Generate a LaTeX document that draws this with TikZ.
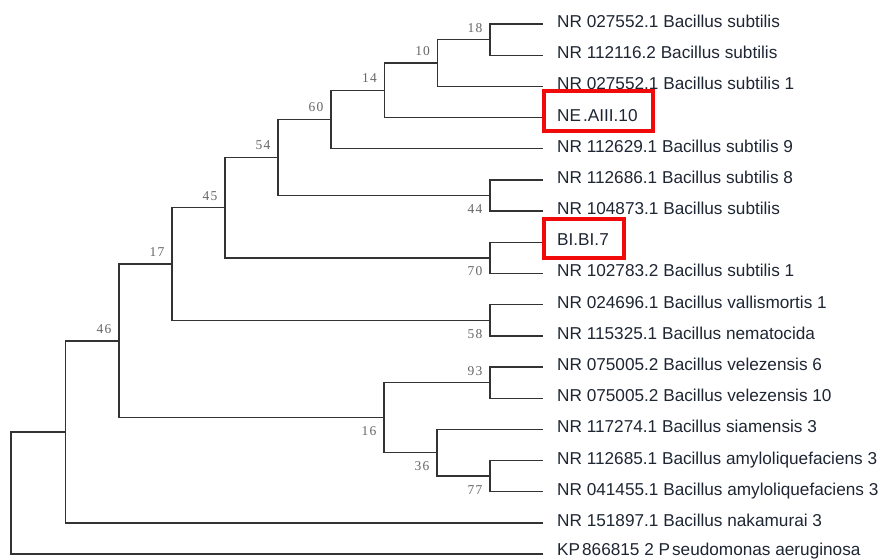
\documentclass[tikz,border=0pt]{standalone}
\usepackage{fontspec}
\setmainfont{Liberation Sans}
\newfontfamily\bootfont[LetterSpace=8]{Liberation Serif}
\definecolor{branch}{HTML}{333333}
\definecolor{leaftext}{HTML}{1E2633}
\definecolor{boot}{HTML}{666666}
\definecolor{hilite}{HTML}{F00A0A}
\tikzset{
  branchline/.style={draw=branch, line width=1.4pt},
  leaf/.style={anchor=base west, inner sep=0pt, text=leaftext,
    font=\fontsize{17.2}{20}\selectfont},
  bootup/.style={anchor=base, inner sep=0pt, text=boot,
    font=\bootfont\fontsize{13.5}{15}\selectfont},
  hibox/.style={draw=hilite, line width=4pt}
}
\begin{document}
\begin{tikzpicture}[x=1pt, y=-1pt]
\useasboundingbox (0,0) rectangle (881,558);

% tips of the terminal branches
\foreach \i/\yy in {0/24.0,1/55.2,2/86.4,3/117.5,4/148.7,5/179.9,6/211.1,
  7/242.3,8/273.4,9/304.6,10/335.8,11/367.0,12/398.2,13/429.3,14/460.5,
  15/491.7,16/522.9,17/554.1}
  \coordinate (t\i) at (543,\yy);

% internal nodes of the tree
\coordinate (n18)  at (490,39.6);
\coordinate (n10)  at (437.7,63.0);
\coordinate (n14)  at (384.5,90.2);
\coordinate (n60)  at (331,119.5);
\coordinate (n44)  at (490,195.5);
\coordinate (n54)  at (278,157.5);
\coordinate (n70)  at (490,257.9);
\coordinate (n45)  at (225,207.7);
\coordinate (n58)  at (490,320.2);
\coordinate (n17)  at (172,264.0);
\coordinate (n93)  at (490,382.6);
\coordinate (n77)  at (490,476.1);
\coordinate (n36)  at (437,452.7);
\coordinate (n16)  at (384,417.7);
\coordinate (n46)  at (119,340.8);
\coordinate (nA)   at (65.7,431.9);
\coordinate (root) at (11,493.0);

% branches
\draw[branchline] (n18) |- (t0);
\draw[branchline] (n18) |- (t1);
\draw[branchline] (n10) |- (n18);
\draw[branchline] (n10) |- (t2);
\draw[branchline] (n14) |- (n10);
\draw[branchline] (n14) |- (t3);
\draw[branchline] (n60) |- (n14);
\draw[branchline] (n60) |- (t4);
\draw[branchline] (n44) |- (t5);
\draw[branchline] (n44) |- (t6);
\draw[branchline] (n54) |- (n60);
\draw[branchline] (n54) |- (n44);
\draw[branchline] (n70) |- (t7);
\draw[branchline] (n70) |- (t8);
\draw[branchline] (n45) |- (n54);
\draw[branchline] (n45) |- (n70);
\draw[branchline] (n58) |- (t9);
\draw[branchline] (n58) |- (t10);
\draw[branchline] (n17) |- (n45);
\draw[branchline] (n17) |- (n58);
\draw[branchline] (n93) |- (t11);
\draw[branchline] (n93) |- (t12);
\draw[branchline] (n77) |- (t14);
\draw[branchline] (n77) |- (t15);
\draw[branchline] (n36) |- (t13);
\draw[branchline] (n36) |- (n77);
\draw[branchline] (n16) |- (n93);
\draw[branchline] (n16) |- (n36);
\draw[branchline] (n46) |- (n17);
\draw[branchline] (n46) |- (n16);
\draw[branchline] (nA) |- (n46);
\draw[branchline] (nA) |- (t16);
\draw[branchline] (root) |- (nA);
\draw[branchline] (root) |- (t17);

% bootstrap values
\node[bootup] (b18) at (475,32.0)  {18};
\node[bootup] (b10) at (422.7,55.4) {10};
\node[bootup] (b14) at (369.5,82.6) {14};
\node[bootup] (b60) at (316,111.9) {60};
\node[bootup] (b54) at (263,149.9) {54};
\node[bootup] (b45) at (210,200.1) {45};
\node[bootup] (b17) at (157,256.4) {17};
\node[bootup] (b46) at (104,333.2) {46};
\node[bootup] (b93) at (475,375.0) {93};
\node[bootup] (b44) at (475,213.5) {44};
\node[bootup] (b70) at (475,275.9) {70};
\node[bootup] (b58) at (475,338.2) {58};
\node[bootup] (b16) at (369,435.7) {16};
\node[bootup] (b36) at (422,470.7) {36};
\node[bootup] (b77) at (475,494.1) {77};

% taxa
\node[leaf] (l0)  at (557,27.5)  {NR 027552.1 Bacillus subtilis};
\node[leaf] (l1)  at (557,58.7)  {NR 112116.2 Bacillus subtilis};
\node[leaf] (l2)  at (557,89.9)  {NR 027552.1 Bacillus subtilis 1};
\node[leaf] (l3)  at (557,121.0) {NE\kern2pt.AIII.10};
\node[leaf] (l4)  at (557,152.2) {NR 112629.1 Bacillus subtilis 9};
\node[leaf] (l5)  at (557,183.4) {NR 112686.1 Bacillus subtilis 8};
\node[leaf] (l6)  at (557,214.6) {NR 104873.1 Bacillus subtilis};
\node[leaf] (l7)  at (557,245.8) {BI.BI.7};
\node[leaf] (l8)  at (557,276.9) {NR 102783.2 Bacillus subtilis 1};
\node[leaf] (l9)  at (557,308.1) {NR 024696.1 Bacillus vallismortis 1};
\node[leaf] (l10) at (557,339.3) {NR 115325.1 Bacillus nematocida};
\node[leaf] (l11) at (557,370.5) {NR 075005.2 Bacillus velezensis 6};
\node[leaf] (l12) at (557,401.7) {NR 075005.2 Bacillus velezensis 10};
\node[leaf] (l13) at (557,432.8) {NR 117274.1 Bacillus siamensis 3};
\node[leaf] (l14) at (557,464.0) {NR 112685.1 Bacillus amyloliquefaciens 3};
\node[leaf] (l15) at (557,495.2) {NR 041455.1 Bacillus amyloliquefaciens 3};
\node[leaf] (l16) at (557,526.4) {NR 151897.1 Bacillus nakamurai 3};
\node[leaf] (l17) at (557,555.8) {KP\kern2pt866815 2 P\kern2pt seudomonas aeruginosa};

% highlighted isolates
\draw[hibox] (544,91) rectangle (653,131);
\draw[hibox] (544,219) rectangle (624,258);
\end{tikzpicture}
\end{document}
